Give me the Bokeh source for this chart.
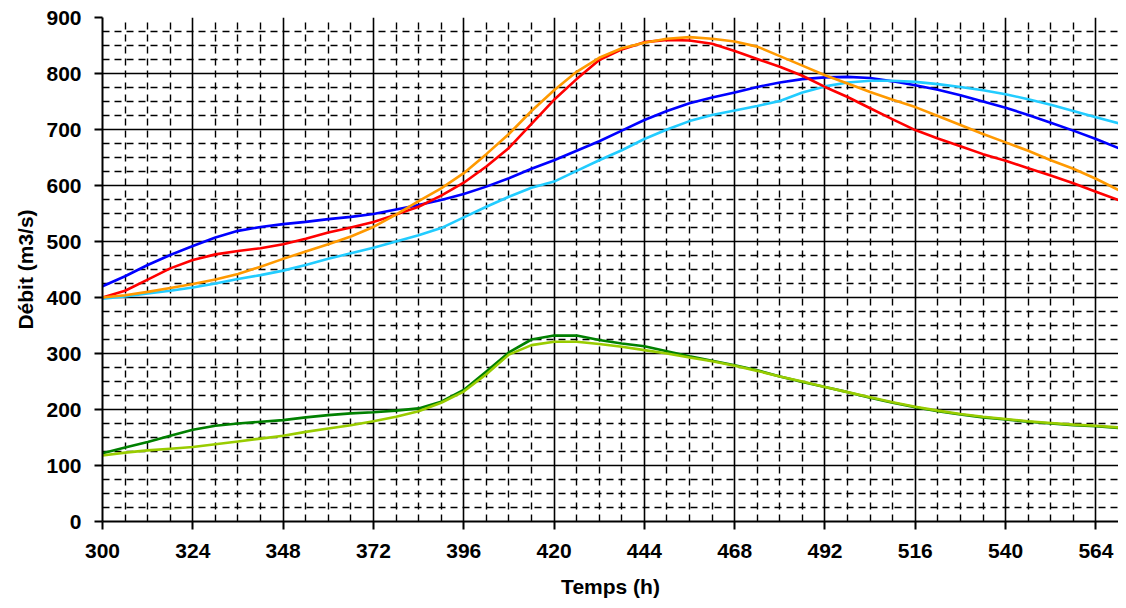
from bokeh.plotting import figure
from bokeh.models import FixedTicker, Range1d
from bokeh.embed import file_html
from bokeh.resources import INLINE

# Time (h)
temps = [300, 306, 312, 318, 324, 330, 336, 342, 348, 354, 360, 366, 372, 378, 384, 390,
         396, 402, 408, 414, 420, 426, 432, 438, 444, 450, 456, 462, 468, 474, 480, 486,
         492, 498, 504, 510, 516, 522, 528, 534, 540, 546, 552, 558, 564, 570]

bleu = [420, 438, 458, 476, 492, 507, 519, 526, 531, 535, 540, 544, 549, 557, 565, 574,
        585, 598, 613, 630, 645, 662, 679, 698, 717, 733, 747, 757, 766, 776, 784, 790,
        793, 794, 792, 786, 779, 771, 761, 750, 739, 726, 712, 698, 683, 667]

rouge = [400, 412, 432, 452, 467, 477, 483, 488, 495, 505, 516, 525, 535, 548, 562, 582,
         605, 634, 667, 710, 753, 790, 824, 843, 856, 860, 859, 853, 840, 826, 812, 796,
         776, 758, 738, 718, 699, 684, 670, 656, 644, 631, 618, 604, 589, 574]

orange = [400, 404, 410, 417, 424, 432, 442, 455, 469, 482, 495, 509, 526, 548, 572, 595,
          622, 656, 692, 733, 770, 803, 828, 845, 855, 862, 865, 862, 857, 848, 831, 814,
          797, 782, 767, 753, 740, 724, 708, 692, 677, 662, 645, 630, 612, 592]

cyan = [398, 402, 407, 412, 418, 425, 433, 440, 448, 458, 469, 479, 489, 500, 511, 524,
        543, 562, 580, 596, 607, 626, 645, 663, 683, 700, 715, 726, 734, 742, 751, 766,
        777, 784, 787, 787, 785, 781, 776, 770, 763, 754, 744, 733, 722, 711]

vert_fonce = [122, 132, 142, 153, 164, 171, 175, 178, 181, 186, 190, 193, 195, 198, 202, 214,
              235, 268, 302, 325, 332, 332, 324, 318, 313, 304, 295, 287, 279, 270, 259, 249,
              240, 231, 221, 212, 204, 197, 191, 186, 182, 178, 175, 172, 170, 167]

vert_clair = [118, 123, 127, 130, 133, 138, 143, 148, 153, 160, 166, 172, 179, 187, 197, 212,
              232, 263, 298, 315, 321, 321, 317, 312, 306, 300, 293, 286, 278, 269, 259, 250,
              240, 231, 222, 213, 205, 198, 192, 187, 183, 179, 176, 173, 171, 168]

x_ticks = [300, 324, 348, 372, 396, 420, 444, 468, 492, 516, 540, 564]
y_ticks = [0, 100, 200, 300, 400, 500, 600, 700, 800, 900]

FONT = "Liberation Sans"

p = figure(width=1118, height=600, output_backend="svg", toolbar_location=None,
           x_range=Range1d(300, 570), y_range=Range1d(0, 900),
           min_border_left=102, min_border_right=0, min_border_top=17, min_border_bottom=76)
p.outline_line_color = None
p.background_fill_color = "white"
p.border_fill_color = "white"

xminor = [v for v in range(300, 571, 6) if v not in x_ticks]
yminor = [v for v in range(0, 901, 25) if v % 100 != 0]
p.xaxis.ticker = FixedTicker(ticks=x_ticks, minor_ticks=xminor)
p.yaxis.ticker = FixedTicker(ticks=y_ticks, minor_ticks=yminor)

for g in (p.xgrid[0], p.ygrid[0]):
    g.grid_line_color = "black"
    g.grid_line_width = 1.6
    g.grid_line_alpha = 1.0
    g.minor_grid_line_color = "black"
    g.minor_grid_line_width = 1.4
    g.minor_grid_line_dash = "7 5"

for ax in (p.xaxis[0], p.yaxis[0]):
    ax.axis_line_color = "black"
    ax.axis_line_width = 2
    ax.major_tick_in = 0
    ax.major_tick_out = 8
    ax.major_tick_line_width = 2
    ax.minor_tick_in = 0
    ax.minor_tick_out = 0
    ax.major_label_text_font = FONT
    ax.major_label_text_font_size = "21px"
    ax.major_label_text_font_style = "bold"
    ax.major_label_text_color = "black"
    ax.axis_label_text_font = FONT
    ax.axis_label_text_font_size = "21px"
    ax.axis_label_text_font_style = "bold"
    ax.axis_label_text_color = "black"

p.xaxis.axis_label = "Temps (h)"
p.yaxis.axis_label = "Débit (m3/s)"
p.xaxis.major_label_standoff = 14
p.yaxis.major_label_standoff = 13
p.xaxis.axis_label_standoff = 14
p.yaxis.axis_label_standoff = 6

W = 2.6
p.line(temps, bleu, line_color="#0000FF", line_width=W)
p.line(temps, cyan, line_color="#22CCFF", line_width=W)
p.line(temps, rouge, line_color="#FF0000", line_width=W)
p.line(temps, orange, line_color="#FF9900", line_width=W)
p.line(temps, vert_fonce, line_color="#008000", line_width=W)
p.line(temps, vert_clair, line_color="#99CC00", line_width=W)

open("out.html", "w").write(file_html(p, INLINE))
